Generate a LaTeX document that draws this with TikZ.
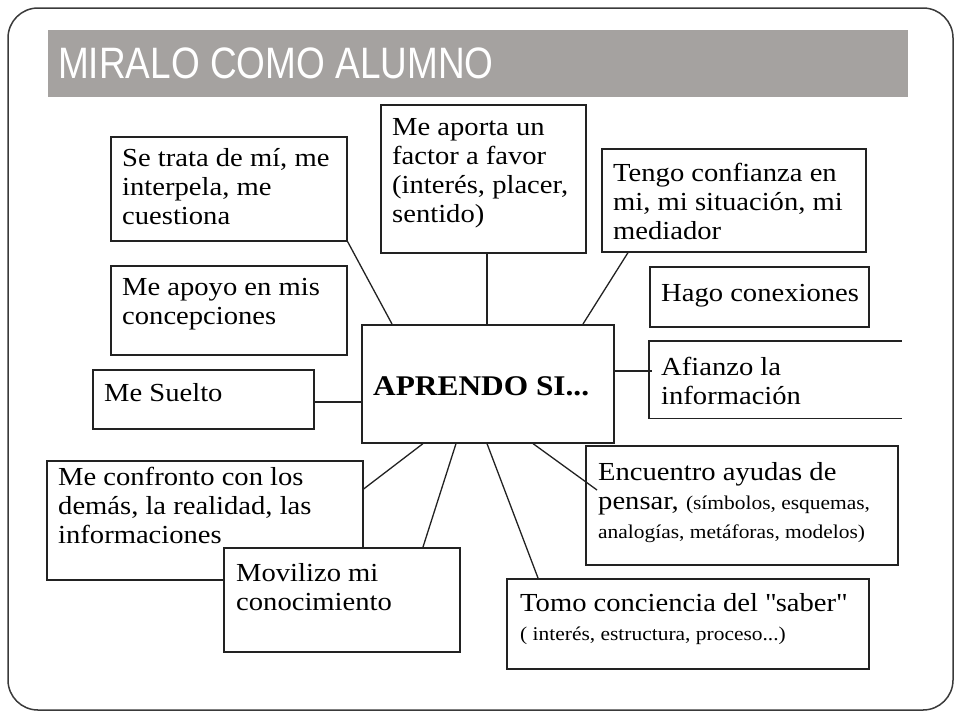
\documentclass[tikz,border=0pt]{standalone}
\usepackage{fontspec}
\setmainfont{Liberation Serif}[FakeStretch=1.1]
\newfontfamily\titlefont{Liberation Sans}[FakeStretch=0.84]
\usetikzlibrary{calc}
\definecolor{titlegray}{HTML}{A5A2A0}
\definecolor{framegray}{HTML}{3A3A3A}
\definecolor{boxline}{HTML}{222222}

\begin{document}
\begin{tikzpicture}[x=1pt,y=-1pt,
    item/.style={draw=boxline, line width=1.6pt, fill=white, anchor=north west, inner sep=0pt},
    itemtext/.style={anchor=north west, inner sep=0pt, align=left, xshift=12pt, text=black,
        font=\fontsize{26}{29}\selectfont},
    link/.style={draw=boxline, line width=1.3pt}]

    % Small print inside a box
    \def\smallprint{\fontsize{19.5}{24}\selectfont}

    % Slide size
    \useasboundingbox (0,0) rectangle (960,720);

    % Slide frame and title bar
    \draw[framegray, line width=1.5pt, rounded corners=30pt] (8,8) rectangle (953,710);
    \fill[titlegray] (48,30) rectangle (908,97);
    \node[anchor=west, inner sep=0pt, text=white, font=\titlefont\fontsize{44}{44}\selectfont] (title) at (58,63) {MIRALO COMO ALUMNO};

    % Boxes round the centre
    \node[item, minimum width=236pt, minimum height=104pt,
        label={[itemtext, yshift=-12pt]north west:{Se trata de mí, me\\interpela, me\\cuestiona}}] (trata) at (110,136) {};
    \node[item, minimum width=205pt, minimum height=148pt,
        label={[itemtext, yshift=-14pt]north west:{Me aporta un\\factor a favor\\(interés, placer,\\sentido)}}] (aporta) at (380,104) {};
    \node[item, minimum width=264pt, minimum height=103pt,
        label={[itemtext, yshift=-15pt]north west:{Tengo confianza en\\mi, mi situación, mi\\mediador}}] (tengo) at (601,148) {};
    \node[item, minimum width=219pt, minimum height=60pt,
        label={[itemtext, yshift=-18pt]north west:{Hago conexiones}}] (hago) at (649,266) {};
    \node[item, minimum width=236pt, minimum height=89pt,
        label={[itemtext, yshift=-13pt]north west:{Me apoyo en mis\\concepciones}}] (apoyo) at (110,265) {};
    \node[item, minimum width=221pt, minimum height=59pt,
        label={[itemtext, yshift=-14pt]north west:{Me Suelto}}] (suelto) at (92,369) {};
    \node[item, minimum width=316pt, minimum height=119pt,
        label={[itemtext, yshift=-7pt]north west:{Me confronto con los\\demás, la realidad, las\\informaciones}}] (confronto) at (46,460) {};
    \node[item, minimum width=236pt, minimum height=104pt,
        label={[itemtext, xshift=1pt, yshift=-16pt]north west:{Movilizo mi\\conocimiento}}] (movilizo) at (223,547) {};
    \node[item, minimum width=312pt, minimum height=119pt,
        label={[itemtext, xshift=1pt, yshift=-17pt]north west:{Encuentro ayudas de\\pensar, {\smallprint(símbolos, esquemas,}\\{\smallprint analogías, metáforas, modelos)}}}] (encuentro) at (585,445) {};
    \node[item, minimum width=362pt, minimum height=90pt,
        label={[itemtext, xshift=2pt, yshift=-15pt]north west:{Tomo conciencia del \textquotedbl saber\textquotedbl\\{\smallprint( interés, estructura, proceso...)}}}] (tomo) at (506,578) {};

    % Open box on the right
    \node[item, draw=none, fill=none, minimum width=251pt, minimum height=76pt,
        label={[itemtext, yshift=-16pt]north west:{Afianzo la\\información}}] (afianzo) at (649,341) {};
    \draw[boxline, line width=1.6pt] (afianzo.north east) -- (afianzo.north west) -- (afianzo.south west) -- (afianzo.south east);

    % Centre box
    \node[item, minimum width=252pt, minimum height=118pt,
        label={[itemtext, yshift=-52pt, font=\bfseries\fontsize{28.5}{30}\selectfont]north west:{APRENDO SI...}}] (aprendo) at (361,324) {};

    % Connectors
    \coordinate (a1) at ($(aporta.south west)+(107,0)$);
    \coordinate (af) at ($(aprendo.north east)+(0,47)$);
    \coordinate (su) at ($(suelto.north east)+(0,33)$);
    \draw[link] (trata.south east) -- ($(aprendo.north west)+(31,0)$);
    \draw[link] (a1) -- (a1 |- aprendo.north);
    \draw[link] ($(tengo.south west)+(27,0)$) -- ($(aprendo.north west)+(222,0)$);
    \draw[link] (af) -- ($(afianzo.west |- af)+(3,0)$);
    \draw[link] (su) -- (su -| aprendo.west);
    \draw[link] ($(confronto.north east)+(0,29)$) -- ($(aprendo.south west)+(62,0)$);
    \draw[link] ($(movilizo.north west)+(200,0)$) -- ($(aprendo.south west)+(95,0)$);
    \draw[link] ($(tomo.north west)+(32,0)$) -- ($(aprendo.south west)+(126,0)$);
    \draw[link] ($(aprendo.south west)+(172,0)$) -- ($(encuentro.north west)+(12,45)$);

\end{tikzpicture}
\end{document}
